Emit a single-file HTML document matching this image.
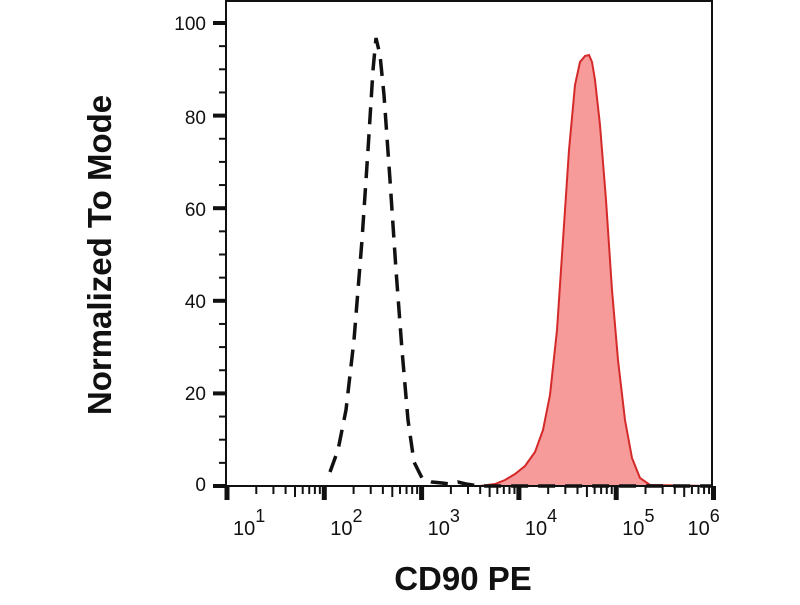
<!DOCTYPE html>
<html><head><style>
body{margin:0;background:#fff}
svg text{font-family:"Liberation Sans",sans-serif;fill:#111}
</style></head><body>
<svg width="800" height="600" viewBox="0 0 800 600">
<rect width="800" height="600" fill="#fff"/>
<path d="M226,486 L480,486 L495,484 L505,480 L515,474 L525,466 L535,452 L543,430 L550,395 L557,330 L563,240 L569,150 L575,85 L580,62 L585,56 L589,55 L592,62 L595,80 L600,125 L606,200 L612,290 L618,360 L625,420 L632,458 L640,478 L650,485 L712,486 Z" fill="#f79a9a" stroke="#d42a2a" stroke-width="2"/>
<path d="M330,472 L338,450 L346,410 L354,340 L362,240 L368,150 L373,70 L376,38 L380,55 L384,95 L390,180 L396,270 L402,350 L408,420 L414,462 L422,478 L432,482 L442,483 L450,484 L458,482 L466,484 L480,486 L712,486" fill="none" stroke="#111" stroke-width="3.5" stroke-dasharray="17,10"/>
<line x1="226" y1="486" x2="712" y2="486" stroke="#111" stroke-width="2"/>
<line x1="226" y1="0" x2="226" y2="487" stroke="#111" stroke-width="2"/>
<line x1="712" y1="0" x2="712" y2="487" stroke="#111" stroke-width="2"/>
<line x1="226" y1="1" x2="712" y2="1" stroke="#111" stroke-width="2"/>
<g id="yt" stroke="#111"></g>
<g id="xt" stroke="#111"></g>
<g font-size="19" text-anchor="end">
<text x="206" y="30">100</text><text x="206" y="124">80</text><text x="206" y="216">60</text>
<text x="206" y="308">40</text><text x="206" y="400">20</text><text x="206" y="491">0</text>
</g>
<g font-size="20" id="xl"></g>
<text x="463" y="590" font-size="33" font-weight="bold" text-anchor="middle">CD90 PE</text>
<text transform="translate(111,255) rotate(-90)" font-size="33" font-weight="bold" text-anchor="middle">Normalized To Mode</text>
</svg>
<script>
var ns="http://www.w3.org/2000/svg";
function L(g,x1,y1,x2,y2,w){var l=document.createElementNS(ns,"line");l.setAttribute("x1",x1);l.setAttribute("y1",y1);l.setAttribute("x2",x2);l.setAttribute("y2",y2);l.setAttribute("stroke-width",w);document.getElementById(g).appendChild(l);}
for(var i=0;i<=20;i++){var y=486-i*23.15;var maj=i%4==0;L("yt",maj?213:219,y,226,y,maj?4:2);}
var d=97.3;
for(var e=1;e<=6;e++){var x=227+(e-1)*d;L("xt",x,486,x,500,5);
 if(e<6)for(var m=2;m<=9;m++){var xm=x+Math.log10(m)*d;L("xt",xm,486,xm,m==5?497:494,2);}}
var xl=document.getElementById("xl");
for(var e=1;e<=6;e++){var x=227+(e-1)*d;var t=document.createElementNS(ns,"text");t.setAttribute("x",x+(e==6?-26:6));t.setAttribute("y",535);t.innerHTML='10<tspan dy="-13" font-size="18">'+e+'</tspan>';xl.appendChild(t);}
</script>
</body></html>
